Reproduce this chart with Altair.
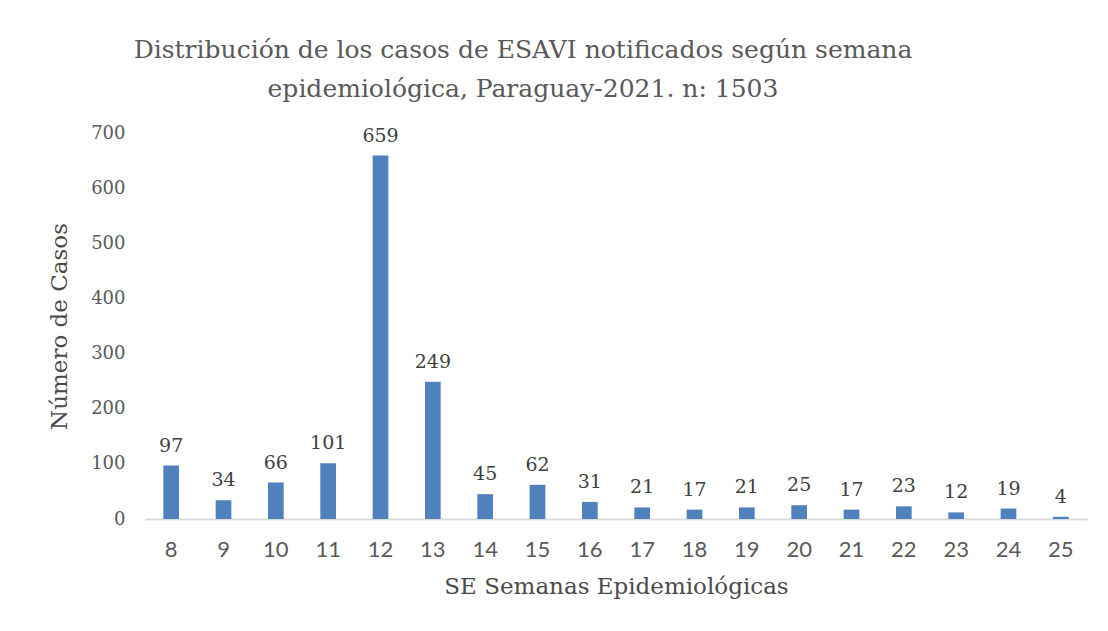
import altair as alt
import pandas as pd

weeks = [8, 9, 10, 11, 12, 13, 14, 15, 16, 17, 18, 19, 20, 21, 22, 23, 24, 25]
cases = [97, 34, 66, 101, 659, 249, 45, 62, 31, 21, 17, 21, 25, 17, 23, 12, 19, 4]
week_labels = [str(w) for w in weeks]

df = pd.DataFrame({"semana": week_labels, "casos": cases})

SERIF = "DejaVu Serif"
SANS = "Lato"

x = alt.X(
    "semana:O",
    sort=week_labels,
    scale=alt.Scale(paddingInner=0.70, paddingOuter=0.35),
    axis=alt.Axis(
        title="SE Semanas Epidemiológicas",
        titleFont=SERIF,
        titleFontSize=23,
        titleFontWeight="normal",
        titleColor="#4a4a4a",
        titlePadding=15,
        labelAngle=0,
        labelFont=SANS,
        labelFontSize=22,
        labelColor="#595959",
        labelPadding=20,
        ticks=False,
        domainColor="#D9D9D9",
        domainWidth=2,
    ),
)

y = alt.Y(
    "casos:Q",
    scale=alt.Scale(domain=[0, 700]),
    axis=alt.Axis(
        title="Número de Casos",
        values=[0, 100, 200, 300, 400, 500, 600, 700],
        titleFont=SERIF,
        titleFontSize=23,
        titleFontWeight="normal",
        titleColor="#4a4a4a",
        titlePadding=19,
        labelFont=SERIF,
        labelFontSize=18,
        labelColor="#595959",
        labelPadding=20,
        ticks=False,
        domain=False,
        grid=False,
    ),
)

base = alt.Chart(df)

bars = base.mark_bar(color="#4F81BD").encode(x=x, y=y)

labels = base.mark_text(
    font=SERIF, fontSize=19, color="#404040", baseline="alphabetic", dy=-14
).encode(x=x, y=y, text="casos:Q")

chart = (
    alt.layer(bars, labels)
    .properties(
        width=942,
        height=386,
        autosize=alt.AutoSizeParams(type="none"),
        padding={"left": 137, "top": 125, "right": 13, "bottom": 100},
        title=alt.TitleParams(
            text=[
                "Distribución de los casos de ESAVI notificados según semana",
                "epidemiológica, Paraguay-2021. n: 1503",
            ],
            font=SERIF,
            fontSize=25,
            fontWeight="normal",
            color="#595959",
            anchor="middle",
            frame="group",
            dx=-93,
            offset=22,
            lineHeight=39,
        ),
    )
    .configure_view(stroke=None)
)

chart.save("out.html", embed_options={"renderer": "svg", "actions": False})
